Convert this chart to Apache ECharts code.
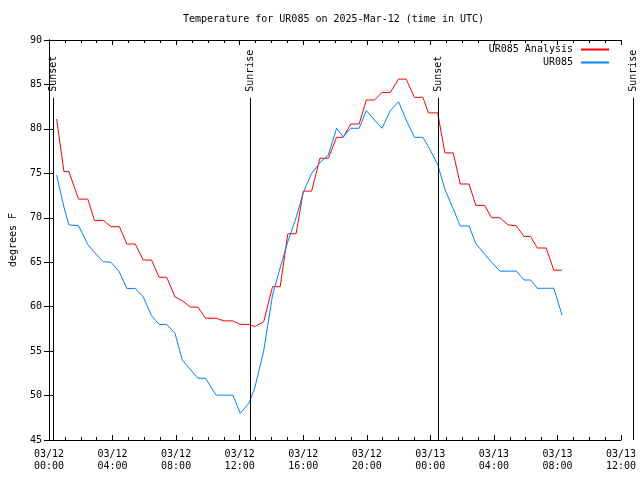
<!DOCTYPE html>
<html><head><meta charset="utf-8">
<script src="https://cdn.jsdelivr.net/npm/echarts@6/dist/echarts.min.js"></script>
<style>html,body{margin:0;padding:0;background:#fff}#c{width:640px;height:480px}</style>
</head><body><div id="c"></div>
<script>
// hours since 2025-03-12 00:00 UTC
const hours = [0.48,0.94,1.25,1.86,2.44,2.86,3.43,3.90,4.43,4.90,5.43,5.93,6.45,6.93,7.41,7.93,8.39,8.91,9.37,9.85,
  10.52,11.00,11.57,12.04,12.60,12.94,13.51,14.07,14.55,15.03,15.55,16.01,16.53,17.05,17.58,18.10,18.52,18.99,19.52,19.97,
  20.49,20.96,21.48,22.00,22.48,23.00,23.53,23.88,24.46,24.92,25.44,25.88,26.44,26.86,27.42,27.85,28.38,28.89,29.41,29.89,
  30.31,30.73,31.29,31.77,32.29];
const analysis = [81.1,75.2,75.2,72.1,72.1,69.7,69.7,69.0,69.0,67.05,67.05,65.25,65.25,63.3,63.3,61.1,60.65,59.95,59.95,58.7,
  58.7,58.4,58.4,58.0,58.0,57.75,58.3,62.25,62.25,68.2,68.2,73.0,73.0,76.7,76.7,79.05,79.05,80.55,80.55,83.25,
  83.25,84.1,84.1,85.6,85.6,83.55,83.55,81.8,81.8,77.3,77.3,73.8,73.8,71.4,71.4,70.0,70.0,69.2,69.1,67.9,
  67.9,66.6,66.6,64.1,64.1];
const observed = [74.8,71.2,69.2,69.1,67.0,66.1,65.05,65.0,63.9,62.05,62.05,61.1,59.0,58.0,58.0,57.0,54.0,52.9,51.95,51.95,
  50.05,50.05,50.05,48.0,49.2,50.8,55.0,61.3,64.4,67.3,70.0,72.9,75.0,76.2,77.06,80.07,79.1,80.07,80.07,82.05,
  81.0,80.07,82.05,83.06,81.0,79.05,79.05,78.0,76.0,73.2,71.0,69.07,69.07,67.1,65.9,65.0,64.0,64.0,64.0,63.0,
  63.0,62.07,62.07,62.07,59.06];
const xTickLabels = ['03/12\n00:00','03/12\n04:00','03/12\n08:00','03/12\n12:00','03/12\n16:00','03/12\n20:00',
  '03/13\n00:00','03/13\n04:00','03/13\n08:00','03/13\n12:00'];
const eventNames = ['Sunset','Sunrise','Sunset','Sunrise'];
const eventHours = [0.48, 12.81, 24.55, 36.78];
const seriesNames = ['UR085 Analysis','UR085'];

const FONT = 'DejaVu Sans Mono';
const GL = 46, GR = 621, W = 640;
const X_MAX = 36;
const X_MAX_WIDE = X_MAX * (W - GL) / (GR - GL);
const LINE_TOP = 83.5;

const eventLines = [];
eventHours.forEach((h, i) => {
  eventLines.push([{coord:[h,45]},{coord:[h,LINE_TOP]}]);
  eventLines.push([
    {coord:[h,LINE_TOP], lineStyle:{width:0,color:'rgba(0,0,0,0)'},
     label:{show:true, formatter:eventNames[i], position:'insideStart', distance:6,
            color:'#000', fontFamily:FONT, fontSize:10}},
    {coord:[h,90]}]);
});

const txt = {fontFamily:FONT, fontSize:10, color:'#000'};
const chart = echarts.init(document.getElementById('c'), null, {renderer:'canvas'});
chart.setOption({
  animation:false,
  backgroundColor:'#fff',
  title:{text:'Temperature for UR085 on 2025-Mar-12 (time in UTC)', left:183, top:14, padding:0,
         textStyle:Object.assign({fontWeight:'normal'}, txt)},
  legend:{data:seriesNames, orient:'vertical', align:'right', right:30, top:43, padding:0,
          itemWidth:28, itemHeight:13, itemGap:0, selectedMode:false,
          itemStyle:{opacity:0},
          textStyle:Object.assign({lineHeight:13, padding:[0,3,0,0]}, txt)},
  grid:[{left:GL, right:W-GR, top:40, bottom:40},
        {left:GL, right:0, top:40, bottom:40}],
  xAxis:[
    {gridIndex:0, type:'value', min:0, max:X_MAX, interval:4, position:'bottom',
     axisLine:{lineStyle:{color:'#000', width:1}},
     axisTick:{inside:true, length:5, lineStyle:{color:'#000'}},
     minorTick:{show:true, splitNumber:4, length:3, lineStyle:{color:'#000'}},
     splitLine:{show:false},
     axisLabel:Object.assign({margin:8, lineHeight:12, showMinLabel:true, showMaxLabel:true,
       formatter:v => xTickLabels[Math.round(v/4)]}, txt)},
    {gridIndex:0, type:'value', min:0, max:X_MAX, interval:4, position:'top',
     axisLine:{lineStyle:{color:'#000', width:1}},
     axisTick:{inside:true, length:5, lineStyle:{color:'#000'}},
     minorTick:{show:true, splitNumber:4, length:3, lineStyle:{color:'#000'}},
     splitLine:{show:false}, axisLabel:{show:false}},
    {gridIndex:1, type:'value', min:0, max:X_MAX_WIDE, show:false}
  ],
  yAxis:[
    {gridIndex:0, type:'value', min:45, max:90, interval:5, position:'left',
     name:'degrees F', nameLocation:'middle', nameGap:31, nameTextStyle:txt,
     axisLine:{show:true, lineStyle:{color:'#000', width:1}},
     axisTick:{show:true, inside:true, length:5, lineStyle:{color:'#000'}},
     splitLine:{show:false},
     axisLabel:Object.assign({margin:7}, txt)},
    {gridIndex:0, type:'value', min:45, max:90, interval:5, position:'right',
     axisLine:{show:true, lineStyle:{color:'#000', width:1}},
     axisTick:{show:true, inside:true, length:5, lineStyle:{color:'#000'}},
     splitLine:{show:false}, axisLabel:{show:false}},
    {gridIndex:1, type:'value', min:45, max:90, show:false}
  ],
  series:[
    {name:seriesNames[0], type:'line', xAxisIndex:0, yAxisIndex:0, symbol:'none', showSymbol:false,
     color:'#ff0000', lineStyle:{width:1, color:'#ff0000'}, z:3,
     data:hours.map((h,i)=>[h, analysis[i]])},
    {name:seriesNames[1], type:'line', xAxisIndex:0, yAxisIndex:0, symbol:'none', showSymbol:false,
     color:'#0080ff', lineStyle:{width:1, color:'#0080ff'}, z:3,
     data:hours.map((h,i)=>[h, observed[i]])},
    {name:'events', type:'line', xAxisIndex:2, yAxisIndex:2, data:[], silent:true,
     markLine:{silent:true, symbol:['none','none'], animation:false,
       lineStyle:{color:'#000', width:1, type:'solid'},
       label:{show:false},
       emphasis:{disabled:true},
       data:eventLines}}
  ]
});
</script></body></html>
